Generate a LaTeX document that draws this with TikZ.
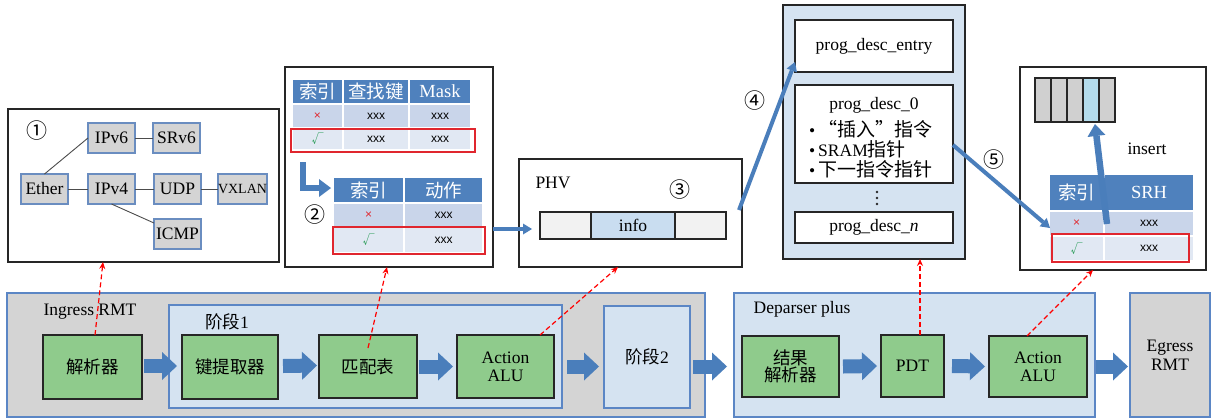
\documentclass[tikz,border=0pt]{standalone}
\usepackage{fontspec}
\setmainfont{Liberation Serif}
\newfontfamily\cjk{Noto Sans CJK SC}
\newfontfamily\arial{Liberation Sans}
\usetikzlibrary{arrows.meta}
\definecolor{hdrblue}{HTML}{4F81BD}
\definecolor{rowa}{HTML}{C9D5EA}
\definecolor{rowb}{HTML}{E1E8F3}
\definecolor{greenbox}{HTML}{8FCB8C}
\definecolor{graybg}{HTML}{D4D4D4}
\definecolor{lightblue}{HTML}{D5E3F1}
\definecolor{borderblue}{HTML}{5B86C5}
\definecolor{arrowblue}{HTML}{4A7EBB}
\definecolor{pnode}{HTML}{D4D4D4}
\definecolor{pborder}{HTML}{6A8DC0}
\definecolor{infoblue}{HTML}{C9DDF0}
\definecolor{cellgray}{HTML}{D0D0D0}
\definecolor{cellcyan}{HTML}{B4DCEC}
\definecolor{okgreen}{HTML}{2E9E5B}
\definecolor{xred}{HTML}{E0262E}
\newcommand\bx[7]{\node[#1, minimum width={#5pt-#3pt}, minimum height={#6pt-#4pt}] (#2) at ({(#3+#5)/2},{(#4+#6)/2}) {#7};}
\begin{document}
\begin{tikzpicture}[x=1pt,y=-1pt,
  every node/.style={font=\fontsize{17.5}{20}\selectfont},
  frame/.style={draw=black!85, line width=1.3pt, fill=white, inner sep=0pt, outer sep=0pt},
  pn/.style={draw=pborder, fill=pnode, line width=1.2pt, inner sep=0pt, outer sep=0pt},
  pline/.style={draw=black!70, line width=0.9pt},
  hdr/.style={fill=hdrblue, draw=white, line width=1.5pt, text=white, inner sep=0pt, outer sep=0pt, font=\fontsize{18.5}{20}\selectfont},
  ra/.style={fill=rowa, draw=white, line width=1.5pt, inner sep=0pt, outer sep=0pt, font=\arial\fontsize{12}{14}\selectfont},
  rb/.style={fill=rowb, draw=white, line width=1.5pt, inner sep=0pt, outer sep=0pt, font=\arial\fontsize{12}{14}\selectfont},
  redbox/.style={draw=xred, line width=1.2pt, inner sep=0pt, outer sep=0pt},
  gbox/.style={draw=black!85, fill=greenbox, line width=1.3pt, inner sep=0pt, outer sep=0pt, align=center},
  region/.style={draw=borderblue, line width=1.2pt, inner sep=0pt, outer sep=0pt},
  cell/.style={draw=black!85, line width=1.1pt, inner sep=0pt, outer sep=0pt},
  cnum/.style={font=\cjk\fontsize{21}{22}\selectfont, inner sep=0pt},
  bigarrow/.style={draw=arrowblue, line width=14pt, -{Triangle[length=15pt,width=28pt,line width=0pt]}},
  thinarrow/.style={draw=arrowblue, line width=4pt, -{Triangle[length=9pt,width=11pt,line width=0pt]}},
  fatarrow/.style={draw=arrowblue, line width=6.5pt, -{Triangle[length=12pt,width=18pt,line width=0pt]}},
  reddash/.style={draw=red, dashed, dash pattern=on 5pt off 3pt, line width=1.2pt, -{Stealth[length=7pt,width=6pt]}},
  dotmark/.style={fill=black!85}
]
\useasboundingbox (0,0) rectangle (1218,418);
% ---------- box 1: parse graph
\bx{frame}{box1}{8}{109}{279}{262}{}
\node[cnum] (n1) at (37,131) {①};
\bx{pn}{ipv6}{88}{123}{135}{153}{IPv6}
\bx{pn}{srv6}{153}{123}{200}{153}{SRv6}
\bx{pn}{ether}{21}{174}{68}{204}{Ether}
\bx{pn}{ipv4}{88}{174}{135}{204}{IPv4}
\bx{pn}{udp}{154}{174}{201}{204}{UDP}
\bx{pn,font=\fontsize{14}{16}\selectfont}{vxlan}{219}{174}{266}{204}{VXLAN}
\bx{pn}{icmp}{154}{219}{201}{249}{ICMP}
\draw[pline] (ether.north) -- (ipv6.west);
\draw[pline] (ether) -- (ipv4);
\draw[pline] (ipv6) -- (srv6);
\draw[pline] (ipv4) -- (udp);
\draw[pline] (udp) -- (vxlan);
\draw[pline] (ipv4.south) -- ([yshift=11pt]icmp.west);
% ---------- box 2: match tables
\bx{frame}{box2}{285}{67}{493}{267}{}
\bx{hdr}{ta1}{292}{79}{343}{104}{\cjk 索引}
\bx{hdr}{ta2}{343}{79}{409}{104}{\cjk 查找键}
\bx{hdr}{ta3}{409}{79}{471}{104}{Mask}
\bx{ra}{tb1}{292}{104}{343}{128}{\textcolor{xred}{×}}
\bx{ra}{tb2}{343}{104}{409}{128}{xxx}
\bx{ra}{tb3}{409}{104}{471}{128}{xxx}
\bx{rb}{tc1}{292}{128}{343}{150}{\textcolor{okgreen}{\cjk √}}
\bx{rb}{tc2}{343}{128}{409}{150}{xxx}
\bx{rb}{tc3}{409}{128}{471}{150}{xxx}
\bx{redbox}{red1}{291}{129}{475}{152}{}
\coordinate (lA) at (303,162);
\coordinate (lB) at (331,188);
\draw[fatarrow] (lA) |- (lB);
\node[cnum] (n2) at (315,215) {②};
\bx{hdr}{ua1}{333}{177}{404}{203}{\cjk 索引}
\bx{hdr}{ua2}{404}{177}{483}{203}{\cjk 动作}
\bx{ra}{ub1}{333}{203}{404}{227}{\textcolor{xred}{×}}
\bx{ra}{ub2}{404}{203}{483}{227}{xxx}
\bx{rb}{uc1}{333}{227}{404}{253}{\textcolor{okgreen}{\cjk √}}
\bx{rb}{uc2}{404}{227}{483}{253}{xxx}
\bx{redbox}{red2}{333}{227}{485}{254}{}
% ---------- box 3: PHV
\bx{frame}{box3}{519}{159}{742}{267}{}
\node (phv) at (553,183) {PHV};
\node[cnum] (n3) at (680,190) {③};
\bx{cell,fill=black!5}{phvL}{540}{212}{591}{239}{}
\bx{cell,fill=infoblue}{phvM}{591}{212}{675}{239}{info}
\bx{cell,fill=black!5}{phvR}{675}{212}{726}{239}{}
\coordinate (phvin) at (532,229);
\draw[thinarrow] (box2.east |- phvin) -- (phvin);
% ---------- box 4: program descriptors
\bx{frame,fill=lightblue}{box4}{783}{5}{965}{259}{}
\bx{frame}{entry}{795}{20}{953}{72}{prog\_desc\_entry}
\bx{frame}{desc0}{795}{85}{953}{183}{}
\node (d0t) at (874,105) {prog\_desc\_0};
\node[anchor=west, inner sep=0pt] (b1) at (809,129) {•\,{\cjk\fontsize{19}{20}\selectfont “插入”指令}};
\node[anchor=west, inner sep=0pt] (b2) at (809,149) {•\,SRAM{\cjk\fontsize{19}{20}\selectfont 指针}};
\node[anchor=west, inner sep=0pt] (b3) at (809,169) {•\,{\cjk\fontsize{19}{20}\selectfont 下一指令指针}};
\fill[dotmark] (877,192) circle (1.4);
\fill[dotmark] (877,198) circle (1.4);
\fill[dotmark] (877,204) circle (1.4);
\bx{frame}{descn}{795}{212}{953}{243}{prog\_desc\_\textit{n}}
\node[cnum] (n4) at (755,101) {④};
\draw[thinarrow] ([xshift=-3pt,yshift=3pt]box3.east) -- ([yshift=-16pt]entry.west);
% ---------- box 5: SRH insert
\bx{frame}{box5}{1020}{67}{1206}{270}{}
\bx{cell,fill=cellgray}{c1}{1035}{78}{1051}{122}{}
\bx{cell,fill=cellgray}{c2}{1051}{78}{1067}{122}{}
\bx{cell,fill=cellgray}{c3}{1067}{78}{1083}{122}{}
\bx{cell,fill=cellcyan}{c4}{1083}{78}{1099}{122}{}
\bx{cell,fill=cellgray}{c5}{1099}{78}{1115}{122}{}
\node (ins) at (1147,149) {insert};
\bx{hdr}{va1}{1049}{174}{1104}{211}{\cjk 索引}
\bx{hdr}{va2}{1104}{174}{1194}{211}{SRH}
\bx{ra}{vb1}{1049}{211}{1104}{236}{\textcolor{xred}{×}}
\bx{ra}{vb2}{1104}{211}{1194}{236}{xxx}
\bx{rb}{vc1}{1049}{236}{1104}{261}{\textcolor{okgreen}{\cjk √}}
\bx{rb}{vc2}{1104}{236}{1194}{261}{xxx}
\bx{redbox}{red3}{1052}{234}{1189}{262}{}
\coordinate (insfrom) at (1107,224);
\draw[fatarrow] (insfrom) -- ([xshift=4pt,yshift=-2pt]c4.south);
\node[cnum] (n5) at (994,160) {⑤};
\coordinate (srhin) at (1050,228);
\draw[thinarrow] ([yshift=-11pt]desc0.east) -- (srhin);
% ---------- bottom pipeline
\bx{region,fill=graybg}{ingress}{7}{293}{705}{417}{}
\node (ingt) at (90,312) {Ingress RMT};
\bx{region,fill=lightblue}{stage1}{169}{305}{562}{408}{}
\node (s1t) at (227,322) {{\cjk 阶段}1};
\bx{gbox}{parser}{43}{335}{142}{399}{\cjk 解析器}
\bx{gbox}{keyx}{182}{335}{278}{399}{\cjk 键提取器}
\bx{gbox}{mtab}{319}{335}{417}{398}{\cjk 匹配表}
\bx{gbox,font=\fontsize{17.5}{18}\selectfont}{alu1}{457}{335}{554}{398}{Action\\ALU}
\bx{region,fill=lightblue}{stage2}{604}{306}{690}{408}{{\cjk 阶段}2}
\bx{region,fill=lightblue}{deparser}{734}{293}{1095}{417}{}
\node (dpt) at (802,309) {Deparser plus};
\bx{gbox,font=\cjk\fontsize{17.5}{17}\selectfont}{resp}{742}{336}{839}{397}{结果\\解析器}
\bx{gbox}{pdt}{881}{335}{944}{397}{PDT}
\bx{gbox,font=\fontsize{17.5}{18}\selectfont}{alu2}{989}{336}{1087}{397}{Action\\ALU}
\bx{region,fill=graybg,align=center,font=\fontsize{17.5}{19}\selectfont}{egress}{1130}{293}{1210}{417}{Egress\\RMT}
\draw[bigarrow] ([xshift=2pt,yshift=1pt]parser.east) -- ([xshift=-5pt,yshift=1pt]keyx.west);
\draw[bigarrow] ([xshift=5pt,yshift=1pt]keyx.east) -- ([xshift=-2pt,yshift=1pt]mtab.west);
\draw[bigarrow] ([xshift=2pt]mtab.east) -- ([xshift=-4pt]alu1.west);
\draw[bigarrow] ([xshift=5pt]stage1.east |- alu1.east) -- ([xshift=-5pt]stage2.west |- alu1.east);
\draw[bigarrow] ([xshift=3pt]stage2.east |- alu1.east) -- ([xshift=-7pt]deparser.west |- alu1.east);
\draw[bigarrow] ([xshift=4pt]resp.east) -- ([xshift=-4pt]pdt.west);
\draw[bigarrow] ([xshift=8pt]pdt.east) -- ([xshift=-4pt]alu2.west);
\draw[bigarrow] ([xshift=1pt]deparser.east |- alu2.east) -- ([xshift=-2pt]egress.west |- alu2.east);
% ---------- red dashed references
\draw[reddash] ([xshift=2.5pt]parser.north) -- (103,0 |- box1.south);
\coordinate (mt0) at (368,348);
\draw[reddash] (mt0) -- (387,0 |- box2.south);
\draw[reddash] (540,0 |- alu1.north) -- (618,0 |- box3.south);
\draw[reddash] (920,0 |- pdt.north) -- (920,0 |- box4.south);
\draw[reddash] (1027,0 |- alu2.north) -- (1093,0 |- box5.south);
\end{tikzpicture}
\end{document}
